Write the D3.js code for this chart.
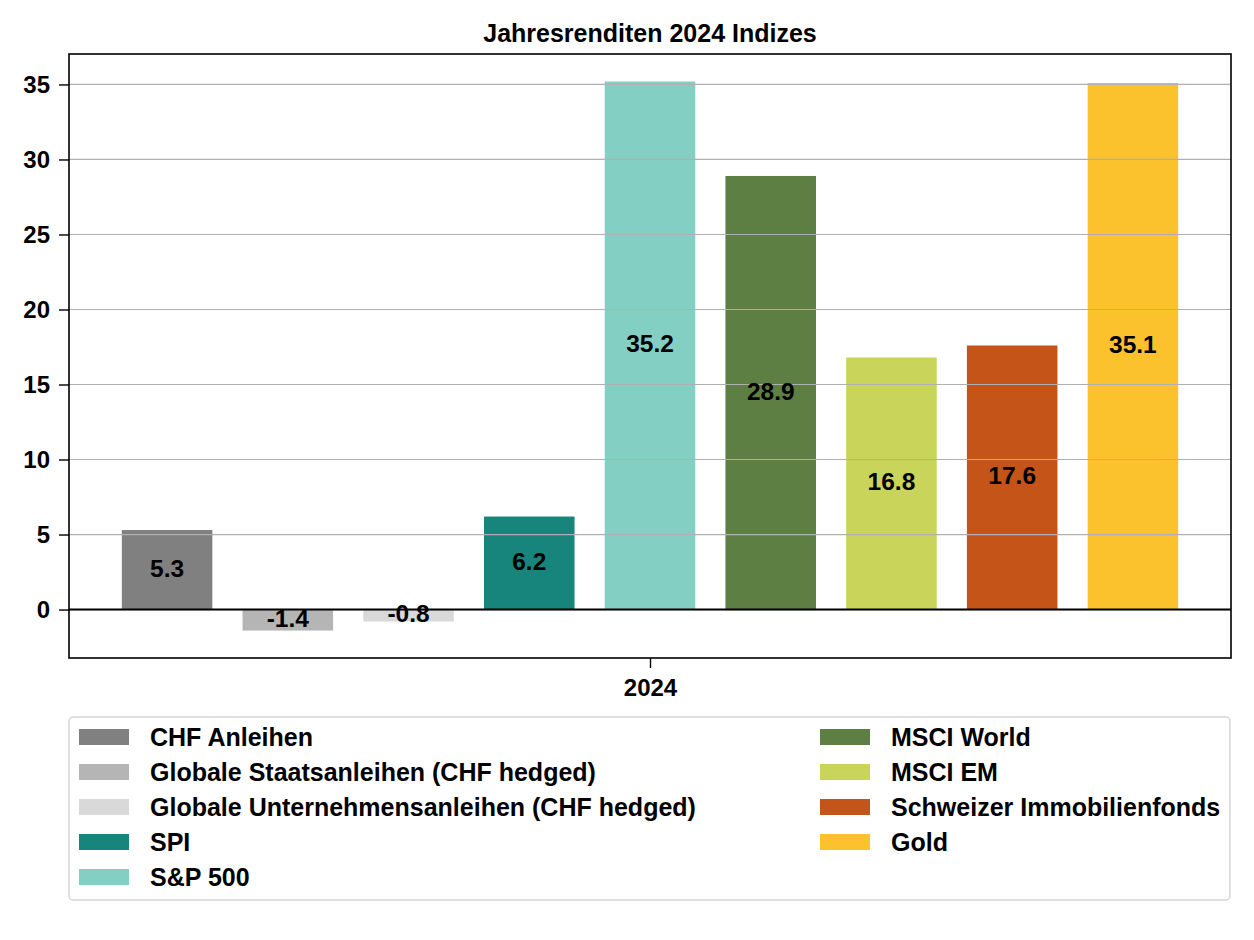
<!DOCTYPE html>
<html>
<head>
<meta charset="utf-8">
<script src="https://cdn.jsdelivr.net/npm/d3@7"></script>
<style>
  body { margin: 0; background: #fff; }
  svg text { font-family: "Liberation Sans", Arial, sans-serif; font-weight: bold; fill: #000; }
</style>
</head>
<body>
<div id="container"></div>
<script>
/* CONSTANTS AND GLOBALS */
const width = 1254
const height = 940
const margin = { top: 54, bottom: 282, left: 69, right: 23 }

// data
const categories = [
  "CHF Anleihen",
  "Globale Staatsanleihen (CHF hedged)",
  "Globale Unternehmensanleihen (CHF hedged)",
  "SPI",
  "S&P 500",
  "MSCI World",
  "MSCI EM",
  "Schweizer Immobilienfonds",
  "Gold"
]
const values = [5.3, -1.4, -0.8, 6.2, 35.2, 28.9, 16.8, 17.6, 35.1]
const colors = ["#808080", "#b5b5b5", "#d9d9d9", "#17857b", "#84cfc4", "#5e7f44", "#c9d45a", "#c45418", "#fbc22e"]
const yTicks = [0, 5, 10, 15, 20, 25, 30, 35]
const xLabel = "2024"

/* SCALES */
const barW = 0.75
const yScale = d3.scaleLinear()
  .domain([-3.23, 37.03])
  .range([height - margin.bottom, margin.top])

const xScale = d3.scaleLinear()
  .domain([-0.8125, categories.length - 1 + 0.8125])
  .range([margin.left, width - margin.right])

/* SVG */
const svg = d3.select("#container")
  .append("svg")
  .attr("width", width)
  .attr("height", height)

// title
svg.append("text")
  .attr("x", (margin.left + width - margin.right) / 2)
  .attr("y", 42)
  .attr("text-anchor", "middle")
  .style("font-size", "25px")
  .text("Jahresrenditen 2024 Indizes")

// bars
svg.selectAll(".bar")
  .data(values)
  .join("rect")
  .attr("class", "bar")
  .attr("x", (d, i) => xScale(i - barW / 2))
  .attr("width", xScale(barW) - xScale(0))
  .attr("y", d => yScale(Math.max(d, 0)))
  .attr("height", d => Math.abs(yScale(d) - yScale(0)))
  .attr("fill", (d, i) => colors[i])

// grid (drawn over the bars, like the original)
svg.append("g")
  .selectAll("line")
  .data(yTicks)
  .join("line")
  .attr("x1", margin.left)
  .attr("x2", width - margin.right)
  .attr("y1", d => yScale(d))
  .attr("y2", d => yScale(d))
  .attr("stroke", "#b0b0b0")
  .attr("stroke-width", 1.2)

// zero line
svg.append("line")
  .attr("x1", margin.left)
  .attr("x2", width - margin.right)
  .attr("y1", yScale(0))
  .attr("y2", yScale(0))
  .attr("stroke", "#000")
  .attr("stroke-width", 2)

// value labels at half height
svg.selectAll(".vlabel")
  .data(values)
  .join("text")
  .attr("class", "vlabel")
  .attr("x", (d, i) => xScale(i))
  .attr("y", d => yScale(d / 2))
  .attr("dy", "0.28em")
  .attr("text-anchor", "middle")
  .style("font-size", "24.5px")
  .text(d => d.toFixed(1))

// frame
svg.append("rect")
  .attr("x", margin.left)
  .attr("y", margin.top)
  .attr("width", width - margin.left - margin.right)
  .attr("height", height - margin.top - margin.bottom)
  .attr("fill", "none")
  .attr("stroke", "#000")
  .attr("stroke-width", 1.6)

// AXES
const yAxis = d3.axisLeft(yScale)
  .tickValues(yTicks)
  .tickSize(10)
  .tickPadding(9)

const yAxisGroup = svg.append("g")
  .attr("transform", `translate(${margin.left}, 0)`)
  .call(yAxis)
yAxisGroup.select(".domain").remove()
yAxisGroup.selectAll("line").attr("stroke", "#000").attr("stroke-width", 1.4)
yAxisGroup.selectAll("text")
  .style("font-size", "24px")
  .style("font-family", "'Liberation Sans', Arial, sans-serif")
  .style("font-weight", "bold")

const xAxis = d3.axisBottom(xScale)
  .tickValues([(categories.length - 1) / 2])
  .tickFormat(() => xLabel)
  .tickSize(10)
  .tickPadding(11)

const xAxisGroup = svg.append("g")
  .attr("transform", `translate(0, ${height - margin.bottom})`)
  .call(xAxis)
xAxisGroup.select(".domain").remove()
xAxisGroup.selectAll("line").attr("stroke", "#000").attr("stroke-width", 1.4)
xAxisGroup.selectAll("text")
  .style("font-size", "24px")
  .style("font-family", "'Liberation Sans', Arial, sans-serif")
  .style("font-weight", "bold")

// LEGEND
const legend = svg.append("g")
legend.append("rect")
  .attr("x", 69)
  .attr("y", 717)
  .attr("width", 1161)
  .attr("height", 183)
  .attr("rx", 4)
  .attr("fill", "#fff")
  .attr("stroke", "#d6d6d6")
  .attr("stroke-width", 1.5)

const items = legend.selectAll(".item")
  .data(categories)
  .join("g")
  .attr("class", "item")
  .attr("transform", (d, i) => {
    const col = i < 5 ? 0 : 1
    const row = i < 5 ? i : i - 5
    return `translate(${col === 0 ? 79 : 820}, ${737 + row * 35})`
  })

items.append("rect")
  .attr("x", 0)
  .attr("y", -8)
  .attr("width", 50)
  .attr("height", 16)
  .attr("fill", (d, i) => colors[i])

items.append("text")
  .attr("x", 71)
  .attr("y", 0)
  .attr("dy", "0.35em")
  .style("font-size", "25px")
  .text(d => d)
</script>
</body>
</html>
